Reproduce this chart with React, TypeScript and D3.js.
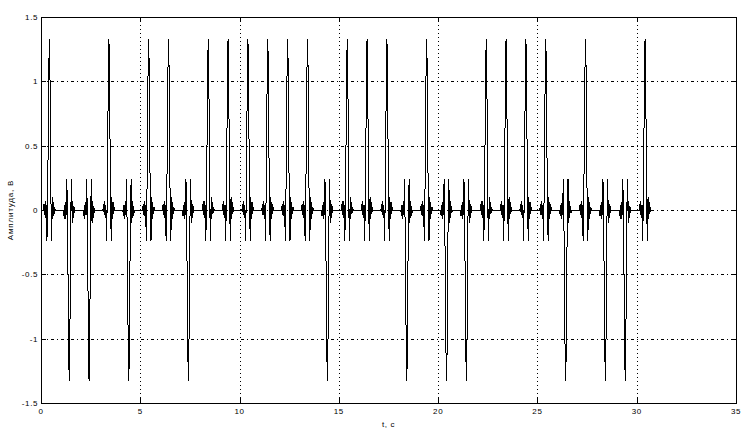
import React from "react";
import * as d3 from "d3";

// Polarity of the main pulse in each 1-second period (t = k + 0.42)
const pulsePolarity = [1, -1, -1, 1, -1, 1, 1, -1, 1, 1, 1, 1, 1, 1, -1, 1, 1, 1, -1, 1, -1, -1, 1, 1, 1, 1, -1, 1, -1, -1, 1];
const pulsePeriod = 1;
const pulseStart = 0.42;
const signalEnd = 30.8;
// Shape of one (positive) pulse: time offsets (s) and values (V)
const shapeOffsets = [-0.3, -0.27, -0.24, -0.21, -0.18, -0.15, -0.12, -0.09, -0.06, -0.03, 0, 0.03, 0.06, 0.09, 0.12, 0.15, 0.18, 0.21, 0.24, 0.27, 0.3];
const shapeValues = [0, 0.05, -0.04, 0.07, -0.06, 0.04, -0.24, 0.02, 0.5, 1.05, 1.33, 1.1, 0.45, -0.05, -0.24, 0.1, -0.07, 0.06, -0.03, 0.02, 0];

const xTicks = [0, 5, 10, 15, 20, 25, 30, 35];
const yTicks = [-1.5, -1, -0.5, 0, 0.5, 1, 1.5];
const xGrid = [5, 10, 15, 20, 25, 30];
const yGrid = [-1, -0.5, 0, 0.5, 1];
const xLabel = "t, с";
const yLabel = "Амплитуда, В";

export default function App() {
  const W = 750, H = 441;
  const L = 41, R = 736, T = 17, B = 403;
  const x = d3.scaleLinear().domain([0, 35]).range([L, R]);
  const y = d3.scaleLinear().domain([-1.5, 1.5]).range([B, T]);

  const pts: [number, number][] = [[0, 0]];
  pulsePolarity.forEach((p, k) => {
    const c = pulseStart + k * pulsePeriod;
    shapeOffsets.forEach((o, i) => pts.push([c + o, p * shapeValues[i]]));
  });
  pts.push([signalEnd, 0]);

  const line = d3.line<[number, number]>().x(d => x(d[0])).y(d => y(d[1]));
  const font = "'Liberation Sans', Arial, sans-serif";
  const tk = 5;

  return (
    <svg width={W} height={H} style={{ position: "absolute", left: 0, top: 0, background: "#fff" }} shapeRendering="crispEdges">
      <rect x={0} y={0} width={W} height={H} fill="#fff" />
      {xGrid.map(v => (
        <line key={"gx" + v} x1={Math.round(x(v)) + 0.5} x2={Math.round(x(v)) + 0.5} y1={T} y2={B} stroke="#000" strokeWidth={1} strokeDasharray="1,3" />
      ))}
      {yGrid.map(v => (
        <line key={"gy" + v} x1={L} x2={R} y1={Math.round(y(v)) + 0.5} y2={Math.round(y(v)) + 0.5} stroke="#000" strokeWidth={1} strokeDasharray="3,3,1,3" />
      ))}
      <path d={line(pts) || ""} fill="none" stroke="#000" strokeWidth={1} />
      <rect x={L + 0.5} y={T + 0.5} width={R - L} height={B - T} fill="none" stroke="#000" strokeWidth={1} />
      {xTicks.map(v => {
        const px = Math.round(x(v)) + 0.5;
        return (
          <g key={"xt" + v}>
            <line x1={px} x2={px} y1={B} y2={B - tk} stroke="#000" />
            <line x1={px} x2={px} y1={T} y2={T + tk} stroke="#000" />
            <text x={x(v)} y={B + 11} fontSize={8} fontFamily={font} textAnchor="middle" letterSpacing={0.6}>{v}</text>
          </g>
        );
      })}
      {yTicks.map(v => {
        const py = Math.round(y(v)) + 0.5;
        return (
          <g key={"yt" + v}>
            <line x1={L} x2={L + tk} y1={py} y2={py} stroke="#000" />
            <line x1={R} x2={R - tk} y1={py} y2={py} stroke="#000" />
            <text x={L - 3} y={y(v) + 3} fontSize={8} fontFamily={font} textAnchor="end" letterSpacing={0.6}>{v}</text>
          </g>
        );
      })}
      <text x={(L + R) / 2} y={427} fontSize={8} fontFamily={font} textAnchor="middle" letterSpacing={0.6}>{xLabel}</text>
      <text transform={`translate(13, ${(T + B) / 2}) rotate(-90)`} fontSize={8} fontFamily={font} textAnchor="middle" letterSpacing={0.8}>{yLabel}</text>
    </svg>
  );
}
